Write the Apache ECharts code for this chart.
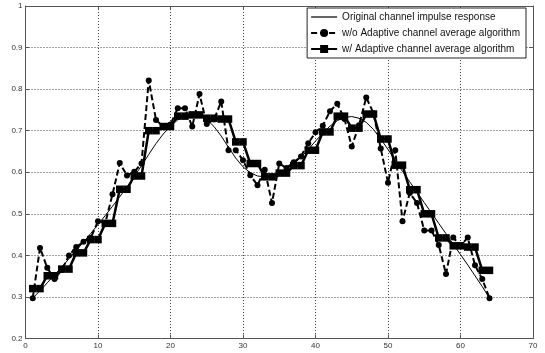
<!DOCTYPE html>
<html><head><meta charset="utf-8">
<script src="https://cdn.jsdelivr.net/npm/echarts@6/dist/echarts.min.js"></script>
<style>html,body{margin:0;padding:0;background:#fff}#c{width:545px;height:353px}</style>
</head><body><div id="c"></div>
<script>
const xValues = [1,2,3,4,5,6,7,8,9,10,11,12,13,14,15,16,17,18,19,20,21,22,23,24,25,26,27,28,29,30,31,32,33,34,35,36,37,38,39,40,41,42,43,44,45,46,47,48,49,50,51,52,53,54,55,56,57,58,59,60,61,62,63,64];
const original = [0.297,0.315,0.334,0.353,0.372,0.392,0.412,0.432,0.453,0.474,0.496,0.518,0.541,0.565,0.590,0.616,0.643,0.669,0.692,0.711,0.726,0.736,0.740,0.737,0.727,0.710,0.687,0.660,0.634,0.613,0.599,0.591,0.589,0.591,0.597,0.607,0.620,0.636,0.655,0.675,0.694,0.711,0.724,0.732,0.734,0.730,0.720,0.703,0.680,0.655,0.628,0.602,0.577,0.552,0.527,0.502,0.477,0.452,0.427,0.402,0.377,0.351,0.325,0.297];
const withoutAvg = [0.297,0.418,0.370,0.343,0.365,0.400,0.420,0.433,0.442,0.482,0.478,0.547,0.622,0.592,0.601,0.621,0.821,0.726,0.710,0.715,0.754,0.754,0.710,0.788,0.716,0.727,0.770,0.653,0.653,0.629,0.593,0.569,0.606,0.526,0.621,0.610,0.624,0.638,0.670,0.696,0.712,0.747,0.765,0.728,0.662,0.713,0.780,0.742,0.657,0.575,0.653,0.482,0.550,0.526,0.460,0.460,0.425,0.355,0.443,0.423,0.443,0.376,0.343,0.297];
const withAvg = [0.320,0.320,0.351,0.351,0.367,0.367,0.406,0.406,0.438,0.438,0.477,0.477,0.559,0.559,0.591,0.591,0.700,0.700,0.710,0.710,0.735,0.735,0.738,0.738,0.730,0.730,0.728,0.728,0.673,0.673,0.621,0.621,0.589,0.589,0.598,0.598,0.616,0.616,0.653,0.653,0.697,0.697,0.735,0.735,0.706,0.706,0.740,0.740,0.680,0.680,0.617,0.617,0.558,0.558,0.500,0.500,0.442,0.442,0.423,0.423,0.420,0.420,0.364,0.364];
const seriesNames = ['Original channel impulse response','w/o Adaptive channel average algorithm','w/ Adaptive channel average algorithm'];
const xTicks = [0,10,20,30,40,50,60,70];
const yTicks = [0.2,0.3,0.4,0.5,0.6,0.7,0.8,0.9,1];

const pair = arr => arr.map((v,i)=>[xValues[i], v]);
const FONT = '"Liberation Sans", Arial, sans-serif';
const gridLine = {show:true, lineStyle:{color:'#444', type:[1,2], width:1}};
const axisLine = {show:true, onZero:false, lineStyle:{color:'#555', width:1}};
const tick = {show:true, inside:true, length:4, lineStyle:{color:'#555'}};

const chart = echarts.init(document.getElementById('c'), null, {renderer:'canvas'});
chart.setOption({
  animation:false,
  backgroundColor:'#fff',
  grid:{left:25.5, right:12, top:6, bottom:14.5, containLabel:false},
  xAxis:[
    {type:'value', min:xTicks[0], max:xTicks[xTicks.length-1], interval:10,
     axisLine, axisTick:tick, splitLine:gridLine,
     axisLabel:{fontSize:8, color:'#333', fontFamily:FONT, margin:3}},
    {type:'value', position:'top', min:xTicks[0], max:xTicks[xTicks.length-1], interval:10,
     axisLine, axisTick:tick, splitLine:{show:false}, axisLabel:{show:false}}
  ],
  yAxis:[
    {type:'value', min:yTicks[0], max:yTicks[yTicks.length-1], interval:0.1,
     axisLine, axisTick:tick, splitLine:gridLine,
     axisLabel:{fontSize:8, color:'#333', fontFamily:FONT, margin:3,
       formatter:v=>String(Math.round(v*10)/10)}},
    {type:'value', position:'right', min:yTicks[0], max:yTicks[yTicks.length-1], interval:0.1,
     axisLine, axisTick:tick, splitLine:{show:false}, axisLabel:{show:false}}
  ],
  legend:{
    orient:'vertical', right:19, top:8,
    backgroundColor:'#fff', borderColor:'#222', borderWidth:1,
    padding:[4,6,4,3], itemGap:6, itemWidth:26, itemHeight:10,
    textStyle:{fontSize:10, color:'#111', fontFamily:FONT},
    data:[
      {name:seriesNames[0], icon:'path://M0,0 L26,0 L26,1.2 L0,1.2 Z'},
      {name:seriesNames[1]},
      {name:seriesNames[2]}
    ]
  },
  series:[
    {name:seriesNames[0], type:'line', data:pair(original), showSymbol:false, symbol:'none',
     lineStyle:{color:'#000', width:1}, itemStyle:{color:'#000'}, z:3},
    {name:seriesNames[1], type:'line', data:pair(withoutAvg), symbol:'circle', symbolSize:6,
     lineStyle:{color:'#000', width:2, type:[6,3]}, itemStyle:{color:'#000'}, z:4},
    {name:seriesNames[2], type:'line', data:pair(withAvg), symbol:'rect', symbolSize:7.5,
     lineStyle:{color:'#000', width:2.5}, itemStyle:{color:'#000'}, z:5}
  ]
});
</script></body></html>
